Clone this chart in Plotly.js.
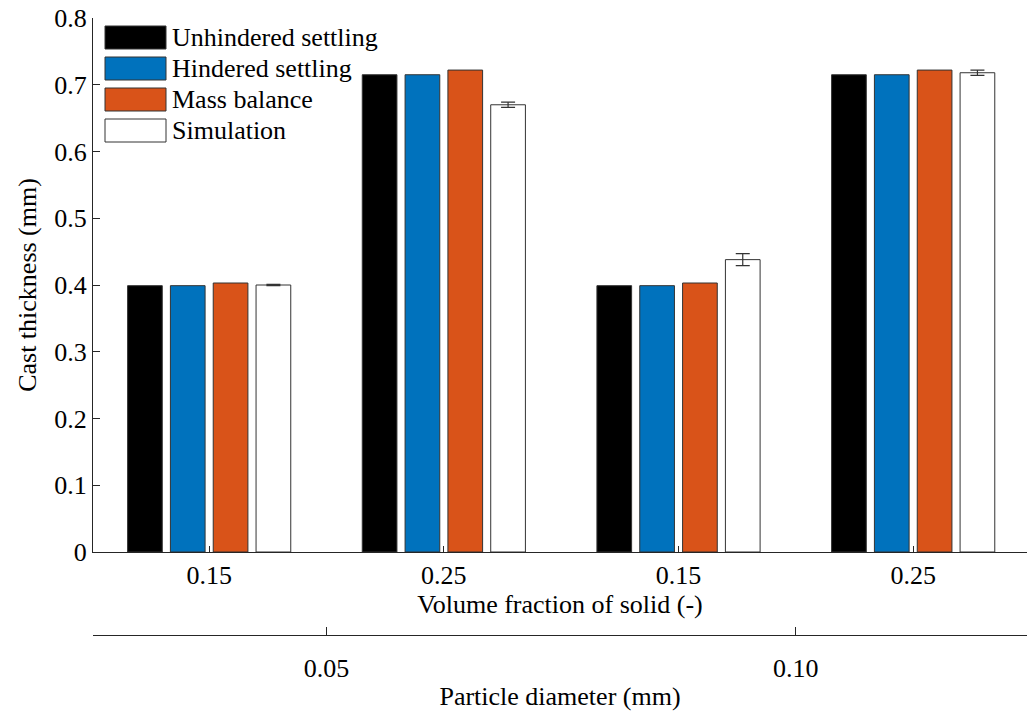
<!DOCTYPE html>
<html>
<head>
<meta charset="utf-8">
<script src="https://cdn.plot.ly/plotly-3.0.1.min.js"></script>
</head>
<body style="margin:0;background:#fff">
<div id="chart" style="width:1027px;height:717px"></div>
<script>
// Categories
const groupPositions = [1, 2, 3, 4];
const volumeFractionLabels = ["0.15", "0.25", "0.15", "0.25"];
const diameterPositions = [1.5, 3.5];
const diameterLabels = ["0.05", "0.10"];

// Series
const seriesNames = ["Unhindered settling", "Hindered settling", "Mass balance", "Simulation"];
const seriesColors = ["#000000", "#0072BD", "#D95319", "#FFFFFF"];
const unhindered = [0.399, 0.715, 0.399, 0.715];
const hindered   = [0.399, 0.715, 0.399, 0.715];
const massBalance = [0.403, 0.722, 0.403, 0.722];
const simulation = [0.400, 0.670, 0.438, 0.718];
const simulationError = [0.001, 0.004, 0.009, 0.004];

const seriesValues = [unhindered, hindered, massBalance, simulation];

const FONT = "Times New Roman";
const outline = "#333333";

function draw() {
  const traces = seriesValues.map((vals, i) => {
    const t = {
      type: "bar",
      x: groupPositions,
      y: vals,
      name: seriesNames[i],
      marker: {color: seriesColors[i], line: {color: outline, width: 1}},
      showlegend: false
    };
    if (i === 3) {
      t.error_y = {type: "data", array: simulationError, visible: true, color: "#333333", thickness: 1.2, width: 7};
    }
    return t;
  });

  // invisible helper trace that activates the second x axis
  traces.push({
    type: "scatter", mode: "none", x: diameterPositions, y: [0, 0],
    xaxis: "x2", yaxis: "y", showlegend: false, hoverinfo: "skip"
  });

  const W = 1027, H = 717;
  const mL = 93, mR = 0, mT = 18, mB = 82;
  const pw = W - mL - mR, ph = H - mT - mB;
  const px = x => (x - mL) / pw;
  const py = y => 1 - (y - mT) / ph;

  // Legend drawn as swatches + labels
  const shapes = [];
  const annotations = [];
  const legendTop = [26, 57, 88, 119];
  legendTop.forEach((top, i) => {
    shapes.push({
      type: "rect", xref: "paper", yref: "paper",
      x0: px(105), x1: px(166), y0: py(top), y1: py(top + 23),
      fillcolor: seriesColors[i], line: {color: outline, width: 1}
    });
    annotations.push({
      xref: "paper", yref: "paper", x: px(170), y: py(top + 11.5),
      xanchor: "left", yanchor: "middle", showarrow: false,
      text: seriesNames[i], font: {family: FONT, size: 26, color: "#000"}
    });
  });

  const layout = {
    width: W, height: H,
    margin: {l: mL, r: mR, t: mT, b: mB, pad: 0},
    paper_bgcolor: "#fff", plot_bgcolor: "#fff",
    font: {family: FONT, size: 26, color: "#000"},
    barmode: "group",
    bargap: 0.27,
    bargroupgap: 0.19,
    showlegend: false,
    xaxis: {
      range: [0.505, 4.485],
      tickvals: groupPositions, ticktext: volumeFractionLabels,
      ticks: "inside", ticklen: 6, tickcolor: "#262626", tickwidth: 1,
      showline: true, linecolor: "#262626", linewidth: 1,
      showgrid: false, zeroline: false,
      tickfont: {family: FONT, size: 26, color: "#000"},
      title: {text: "Volume fraction of solid (-)", font: {family: FONT, size: 26, color: "#000"}, standoff: 4},
      anchor: "y"
    },
    xaxis2: {
      overlaying: "x",
      range: [0.505, 4.485],
      anchor: "free", position: 0, side: "bottom",
      tickvals: diameterPositions, ticktext: diameterLabels,
      ticks: "inside", ticklen: 8, tickcolor: "#262626", tickwidth: 1,
      showline: true, linecolor: "#262626", linewidth: 1,
      showgrid: false, zeroline: false,
      tickfont: {family: FONT, size: 26, color: "#000"},
      ticklabelstandoff: 10,
      title: {text: "Particle diameter (mm)", font: {family: FONT, size: 26, color: "#000"}, standoff: 4}
    },
    yaxis: {
      domain: [(H - mB - 552) / ph, 1],
      range: [0, 0.8], dtick: 0.1, tickformat: ".1~f",
      ticks: "inside", ticklen: 7, tickcolor: "#262626", tickwidth: 1,
      showline: true, linecolor: "#262626", linewidth: 1,
      showgrid: false, zeroline: false,
      tickfont: {family: FONT, size: 26, color: "#000"},
      title: {text: "Cast thickness (mm)", font: {family: FONT, size: 26, color: "#000"}, standoff: 10}
    },
    shapes: shapes,
    annotations: annotations
  };

  return Plotly.newPlot("chart", traces, layout, {displayModeBar: false});
}

const fontReady = (document.fonts && document.fonts.load)
  ? Promise.all([
      document.fonts.load('26px "Times New Roman"'),
      document.fonts.load('26px "Liberation Serif"')
    ]).catch(() => null)
  : Promise.resolve();
fontReady.then(draw);
</script>
</body>
</html>
